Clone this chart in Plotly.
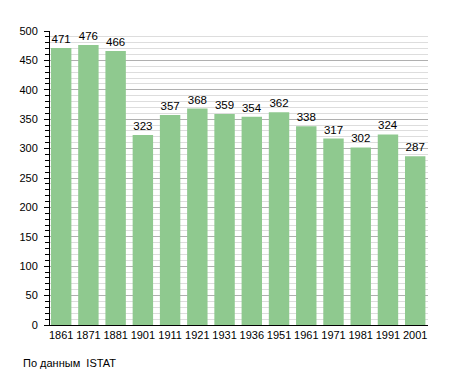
import plotly.graph_objects as go

years = ["1861", "1871", "1881", "1901", "1911", "1921", "1931", "1936", "1951", "1961", "1971", "1981", "1991", "2001"]
population = [471, 476, 466, 323, 357, 368, 359, 354, 362, 338, 317, 302, 324, 287]
source_note = "По данным  ISTAT"

FONT = "Liberation Sans, Arial, sans-serif"
idx = list(range(len(years)))

fig = go.Figure()
fig.add_trace(go.Bar(
    x=idx, y=population, width=0.75,
    marker=dict(color="#8FC98F", line=dict(width=0)),
    text=[str(v) for v in population], textposition="outside",
    textfont=dict(family=FONT, size=11.5, color="#000"),
    cliponaxis=False, hoverinfo="skip",
))

fig.update_layout(
    width=455, height=373,
    margin=dict(l=50, r=27, t=31, b=48, autoexpand=False),
    paper_bgcolor="white", plot_bgcolor="white",
    showlegend=False, bargap=0.25,
    font=dict(family=FONT, size=11, color="#000"),
    uniformtext=dict(minsize=11, mode="show"),
    annotations=[dict(text=source_note, xref="paper", yref="paper",
                      x=-0.077, y=-0.129, xanchor="left", yanchor="middle",
                      showarrow=False, font=dict(family=FONT, size=11, color="#000"))],
)
fig.update_xaxes(
    tickvals=idx, ticktext=years, range=[-0.41, 13.47],
    showline=True, linecolor="#000", linewidth=1,
    showgrid=False, ticks="", zeroline=False, automargin=False,
    tickfont=dict(family=FONT, size=11),
)
fig.update_yaxes(
    range=[0, 500], dtick=50, tick0=0,
    showline=True, linecolor="#000", linewidth=1,
    showgrid=True, gridcolor="#b0b0b0", gridwidth=1,
    ticks="outside", ticklen=5, tickcolor="#000", ticklabelstandoff=4,
    zeroline=False, automargin=False,
    tickfont=dict(family=FONT, size=11),
    minor=dict(dtick=10, showgrid=True, gridcolor="#dddddd", gridwidth=1,
               ticks="outside", ticklen=4, tickcolor="#000"),
)

fig.write_html("out.html", config={"displayModeBar": False},
               post_script="document.body.style.margin='0';")
